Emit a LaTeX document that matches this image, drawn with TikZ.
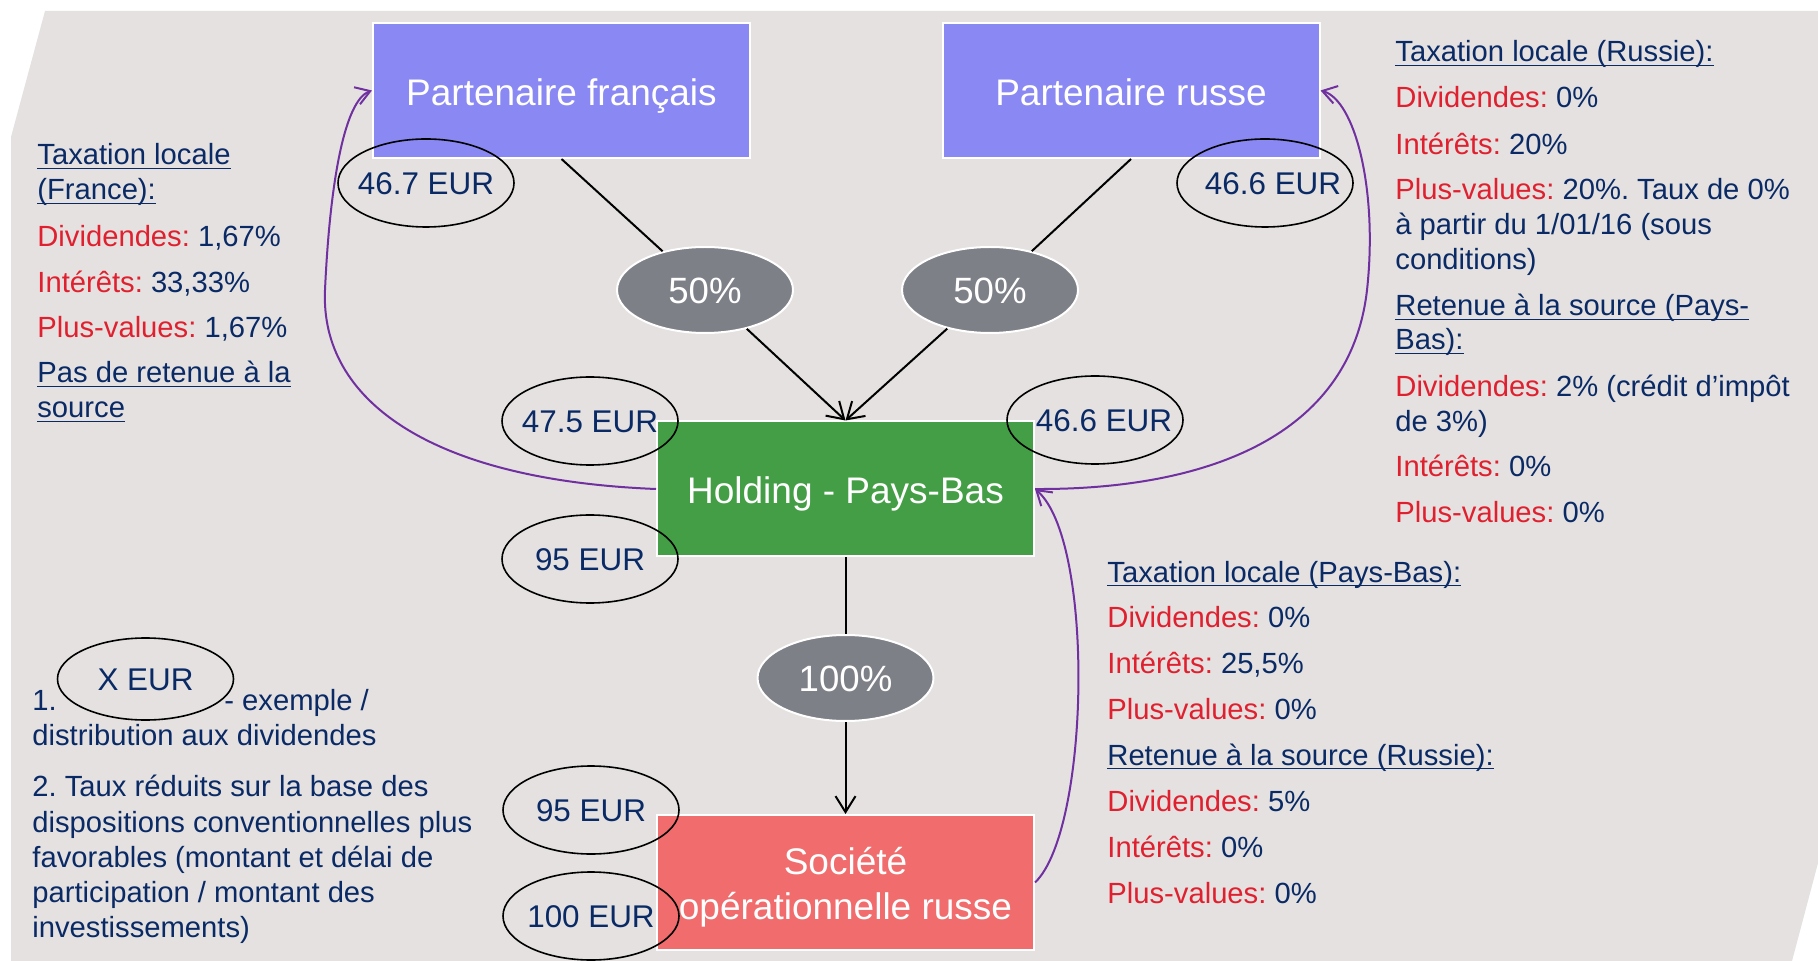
\documentclass[tikz,border=0pt]{standalone}
\usepackage{fontspec}
\setmainfont{Liberation Sans}
\usetikzlibrary{shapes.geometric,arrows.meta}
\definecolor{bg}{RGB}{228,225,224}
\definecolor{navy}{HTML}{0A2A66}
\definecolor{tred}{HTML}{E0202E}
\definecolor{peri}{RGB}{138,136,242}
\definecolor{hgreen}{RGB}{68,158,70}
\definecolor{spink}{RGB}{241,108,108}
\definecolor{pgray}{RGB}{126,128,136}
\definecolor{purp}{RGB}{112,48,160}
\newcommand\myul[1]{\leavevmode\setbox0\hbox{#1}\rlap{\rule[-2.2pt]{\wd0}{0.9pt}}\box0}
\newcommand\lab[1]{\textcolor{tred}{#1}}
\frenchspacing
\begin{document}
\frenchspacing
\begin{tikzpicture}[x=0.5pt,y=-0.5pt,
  box/.style={rectangle, draw=white, line width=1pt, minimum width=188.5pt, minimum height=67.5pt, inner sep=0pt, text=white, font=\fontsize{18.5}{22.5}\selectfont\frenchspacing, align=center},
  onel/.style={text height=14.8pt, text depth=0pt},
  pct/.style={ellipse, fill=pgray, draw=white, line width=1pt, minimum width=88pt, minimum height=43pt, inner xsep=-20pt, inner ysep=0pt, text=white, font=\fontsize{18.3}{22}\selectfont, text height=13.1pt, text depth=0pt},
  eur/.style={ellipse, draw=black, line width=0.8pt, minimum width=88pt, minimum height=44pt, inner xsep=-25pt, inner ysep=0pt, text=navy, font=\fontsize{15.7}{19}\selectfont, text height=11.3pt, text depth=0pt},
  txt/.style={anchor=base west, inner sep=0pt, text=navy, font=\fontsize{14.6}{17.5}\selectfont\frenchspacing},
  arr/.style={line width=1pt, -{Straight Barb[length=8pt,width=10pt]}},
  parr/.style={purp, line width=1pt, -{Straight Barb[length=7pt,width=9pt]}},
]
\useasboundingbox (0,0) rectangle (1818,961);
\fill[bg] (45,11) -- (1818,11) -- (1818,863) -- (1792,961) -- (11,961) -- (11,137) -- cycle;

% boxes
\node[box, onel, fill=peri] (fr) at (561.5,90.5) {Partenaire français};
\node[box, onel, fill=peri] (ru) at (1131,90.5) {Partenaire russe};
\node[box, onel, fill=hgreen] (hold) at (845.5,489) {Holding - Pays-Bas};
\node[box, fill=spink] (soc) at (845.5,882.5) {\rule{0pt}{18pt}Société\\opérationnelle russe};

% percentage ellipses
\node[pct] (p1) at (705,290) {50\%};
\node[pct] (p2) at (990,290) {50\%};
\node[pct] (p3) at (845.5,678) {100\%};

% black connectors
\draw[line width=1pt] (fr.south) -- (p1);
\draw[arr] (p1) -- (hold.north);
\draw[line width=1pt] (ru.south) -- (p2);
\draw[arr] (p2) -- (hold.north);
\draw[line width=1pt] (hold.south) -- (p3);
\draw[arr] (p3) -- (soc.north);

% purple curves
\draw[parr] (hold.west) .. controls (430,480) and (320,400) .. (325,290) .. controls (330,180) and (345,100) .. (fr.west);
\draw[parr] (hold.east) .. controls (1200,490) and (1350,440) .. (1367,290) .. controls (1378,190) and (1355,100) .. (ru.east);
\draw[parr] (soc.east) .. controls (1090,830) and (1095,540) .. (hold.east);

% amount ellipses
\node[eur] (e1) at (426,183) {46.7 EUR};
\node[eur] (e2) at (1265,183) {\hspace*{8pt}46.6 EUR};
\node[eur] (e3) at (590,421) {47.5 EUR};
\node[eur] (e4) at (1095,420) {\hspace*{9pt}46.6 EUR};
\node[eur] (e5) at (590,559) {95 EUR};
\node[eur] (e6) at (591,810) {95 EUR};
\node[eur] (e7) at (591,916) {100 EUR};
\node[eur, minimum height=41pt] (ex) at (145.5,679) {X EUR};

% France block
\node[txt] (fr1) at (37,165) {\myul{Taxation locale}};
\node[txt] (fr2) at (37,200) {\myul{(France):}};
\node[txt] (fr3) at (37,247) {\lab{Dividendes:} 1,67\%};
\node[txt] (fr4) at (37,293) {\lab{Intérêts:} 33,33\%};
\node[txt] (fr5) at (37,338) {\lab{Plus-values:} 1,67\%};
\node[txt] (fr6) at (37,383) {\myul{Pas de retenue à la}};
\node[txt] (fr7) at (37,418) {\myul{source}};

% Russia block
\node[txt] (ru1) at (1395,62) {\myul{Taxation locale (Russie):}};
\node[txt] (ru2) at (1395,107.5) {\lab{Dividendes:} 0\%};
\node[txt] (ru3) at (1395,154.5) {\lab{Intérêts:} 20\%};
\node[txt] (ru4) at (1395,199.5) {\lab{Plus-values:} 20\%. Taux de 0\%};
\node[txt] (ru5) at (1395,234.5) {à partir du 1/01/16 (sous};
\node[txt] (ru6) at (1395,269.5) {conditions)};
\node[txt] (ru7) at (1395,316) {\myul{Retenue à la source (Pays-}};
\node[txt] (ru8) at (1395,350) {\myul{Bas):}};
\node[txt] (ru9) at (1395,397) {\lab{Dividendes:} 2\% (crédit d’impôt};
\node[txt] (ru10) at (1395,432) {de 3\%)};
\node[txt] (ru11) at (1395,477) {\lab{Intérêts:} 0\%};
\node[txt] (ru12) at (1395,523) {\lab{Plus-values:} 0\%};

% Netherlands block
\node[txt] (nl1) at (1107,582) {\myul{Taxation locale (Pays-Bas):}};
\node[txt] (nl2) at (1107,627) {\lab{Dividendes:} 0\%};
\node[txt] (nl3) at (1107,673) {\lab{Intérêts:} 25,5\%};
\node[txt] (nl4) at (1107,719) {\lab{Plus-values:} 0\%};
\node[txt] (nl5) at (1107,765) {\myul{Retenue à la source (Russie):}};
\node[txt] (nl6) at (1107,811) {\lab{Dividendes:} 5\%};
\node[txt] (nl7) at (1107,857) {\lab{Intérêts:} 0\%};
\node[txt] (nl8) at (1107,903) {\lab{Plus-values:} 0\%};

% footnotes
\node[txt] (n1a) at (32,710) {1.};
\node[txt] (n1b) at (224,710) {- exemple /};
\node[txt] (n1c) at (32,745) {distribution aux dividendes};
\node[txt] (n2a) at (32,796) {2. Taux réduits sur la base des};
\node[txt] (n2b) at (32,832) {dispositions conventionnelles plus};
\node[txt] (n2c) at (32,867) {favorables (montant et délai de};
\node[txt] (n2d) at (32,902) {participation / montant des};
\node[txt] (n2e) at (32,937) {investissements)};
\end{tikzpicture}
\end{document}
